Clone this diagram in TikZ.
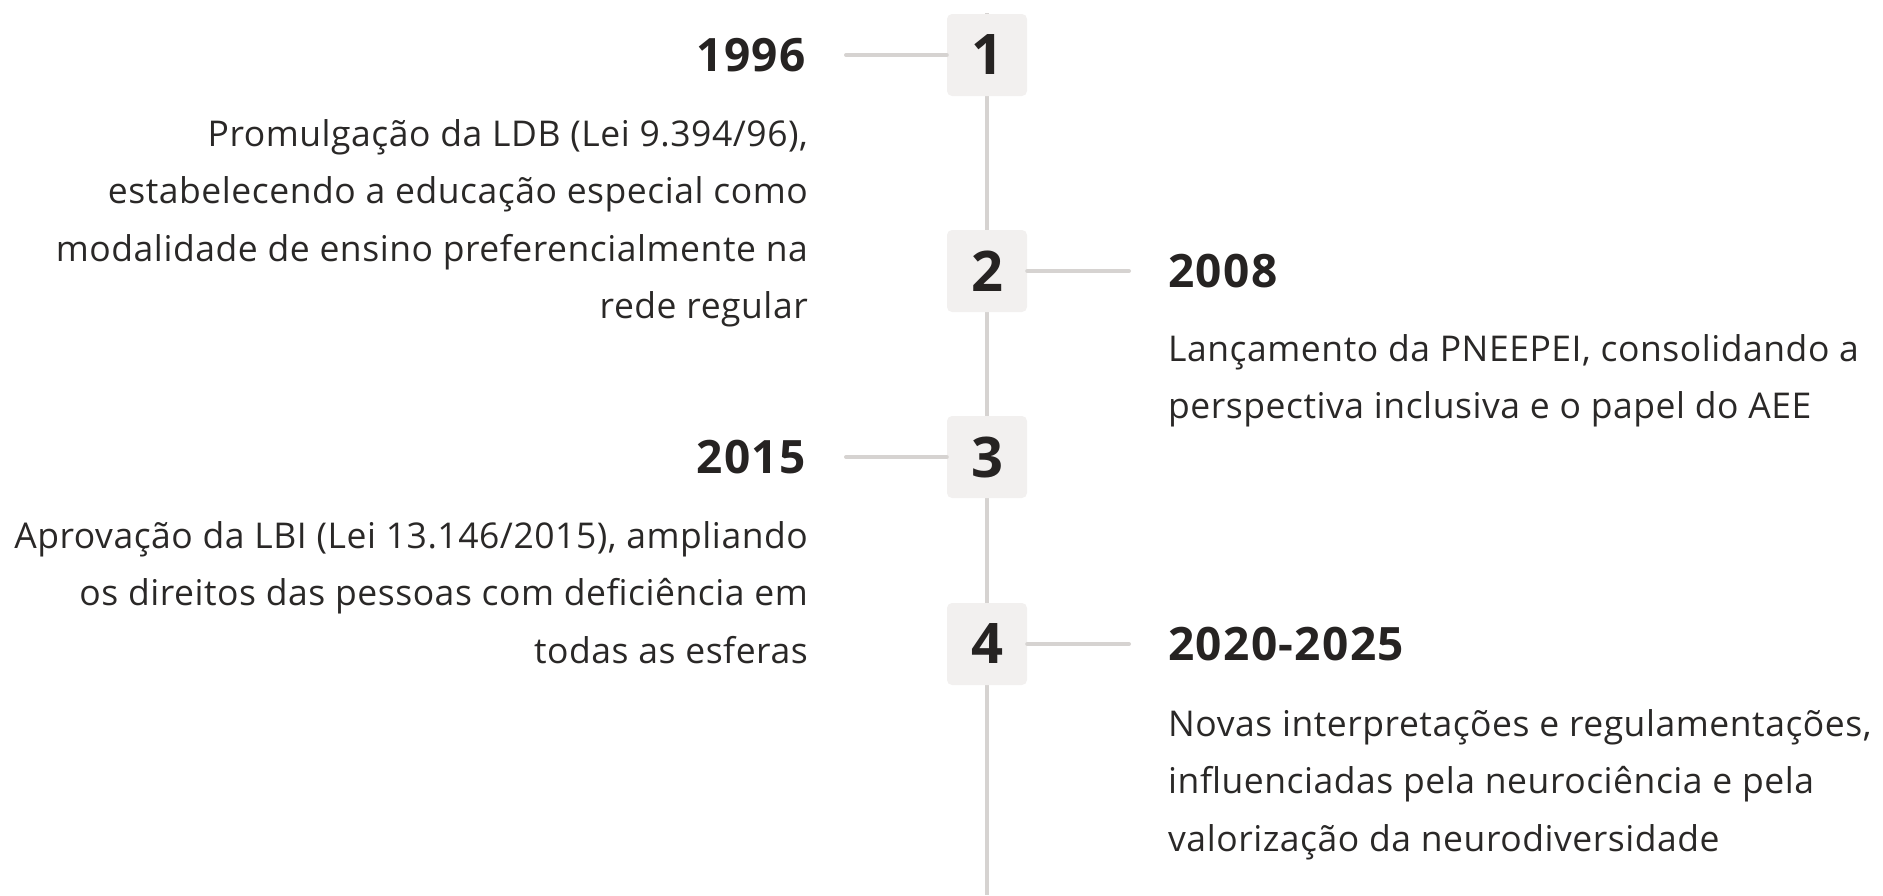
\documentclass[tikz,border=0pt]{standalone}
\usepackage{fontspec}
\setmainfont{Open Sans}
\newfontfamily\descfont[LetterSpace=1.5]{Open Sans}
\newfontfamily\yearfont[LetterSpace=3]{Open Sans}
\usetikzlibrary{positioning}
\definecolor{boxfill}{HTML}{F2F0EF}
\definecolor{rulegray}{HTML}{D6D3D1}
\definecolor{ink}{HTML}{262322}
\definecolor{bodyink}{HTML}{2A2827}
\tikzstyle{num}=[rectangle,rounded corners=5pt,fill=boxfill,minimum width=80pt,minimum height=82pt,inner sep=0pt,text=ink,font=\fontsize{56}{60}\selectfont\bfseries]
\tikzstyle{year}=[inner sep=0pt,text=ink,font=\yearfont\fontsize{46}{50}\selectfont\bfseries]
\tikzstyle{desc}=[inner sep=0pt,text=bodyink,font=\descfont\fontsize{35.5}{57.6}\selectfont]
\tikzstyle{conn}=[draw=rulegray,line width=4pt,line cap=round]

\begin{document}
\begin{tikzpicture}[x=1pt,y=-1pt]
\useasboundingbox (0,0) rectangle (1883,895);

\coordinate (top) at (987,13);
\coordinate (bot) at (987,895);
\draw[draw=rulegray,line width=4pt] (top) -- (bot);

\node (1) at (987,55)  [num] {1};
\node (2) at (987,271) [num] {2};
\node (3) at (987,457) [num] {3};
\node (4) at (987,644) [num] {4};

\node (y1) at (806,55)    [year,anchor=east] {1996};
\node (y2) at (1168,271)  [year,anchor=west] {2008};
\node (y3) at (806,457)   [year,anchor=east] {2015};
\node (y4) at (1168,644)  [year,anchor=west] {2020-2025};

\node (d1) at (808,119)  [desc,anchor=north east,align=right]
  {Promulgação da LDB (Lei 9.394/96),\\estabelecendo a educação especial como\\modalidade de ensino preferencialmente na\\rede regular};
\node (d2) at (1168,334) [desc,anchor=north west,align=left]
  {Lançamento da PNEEPEI, consolidando a\\perspectiva inclusiva e o papel do AEE};
\node (d3) at (808,521)  [desc,anchor=north east,align=right]
  {Aprovação da LBI (Lei 13.146/2015), ampliando\\os direitos das pessoas com deficiência em\\todas as esferas};
\node (d4) at (1168,709) [desc,anchor=north west,align=left]
  {Novas interpretações e regulamentações,\\influenciadas pela neurociência e pela\\valorização da neurodiversidade};

\draw[conn,shorten >=40pt] (1) -- (y1);
\draw[conn,shorten >=39pt] (2) -- (y2);
\draw[conn,shorten >=40pt] (3) -- (y3);
\draw[conn,shorten >=39pt] (4) -- (y4);
\end{tikzpicture}
\end{document}
